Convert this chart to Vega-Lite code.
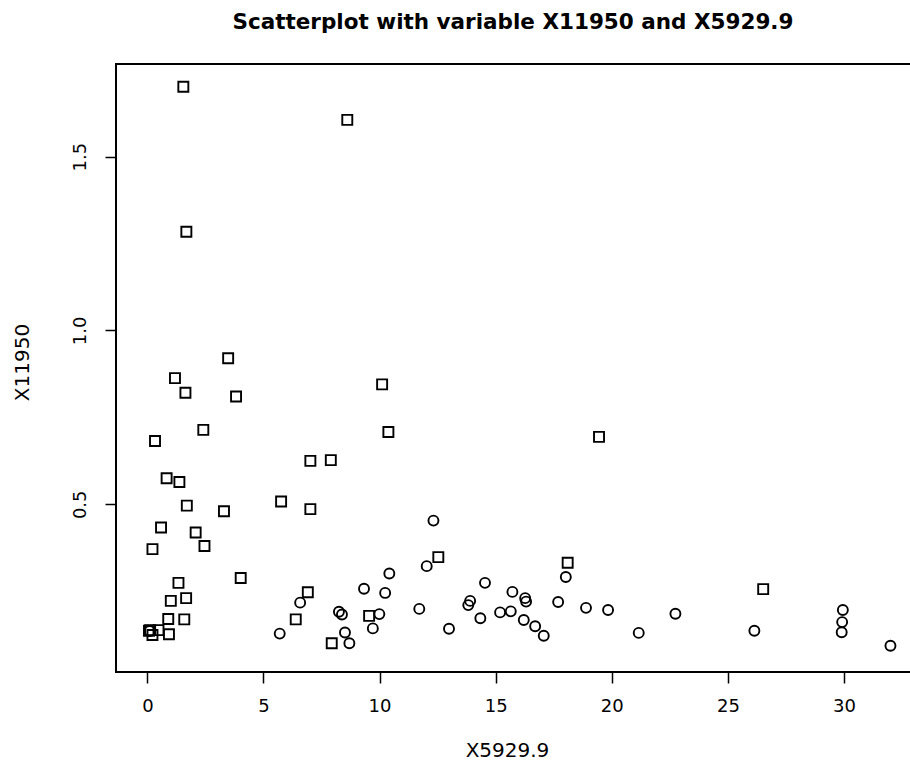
{
  "$schema": "https://vega.github.io/schema/vega-lite/v6.json",
  "autosize": "none",
  "padding": {"left": 116, "top": 64, "right": 0, "bottom": 93},
  "width": 800,
  "height": 608,
  "background": "white",
  "title": {
    "text": "Scatterplot with variable X11950 and X5929.9",
    "font": "DejaVu Sans",
    "fontSize": 21.5,
    "fontWeight": "bold",
    "color": "black",
    "anchor": "middle",
    "baseline": "alphabetic",
    "dx": -3,
    "dy": 16,
    "offset": 30
  },
  "config": {
    "view": {"stroke": "black", "strokeWidth": 2},
    "axis": {
      "domain": false,
      "grid": false,
      "ticks": true,
      "tickColor": "black",
      "tickSize": 11,
      "tickWidth": 1.5,
      "labelFont": "DejaVu Sans",
      "labelFontSize": 18,
      "labelColor": "black",
      "titleFont": "DejaVu Sans",
      "titleFontSize": 20,
      "titleFontWeight": "normal",
      "titleColor": "black"
    }
  },
  "data": {
    "values": [
      {"x": 1.55, "y": 1.701, "g": "sq"},
      {"x": 8.61, "y": 1.606, "g": "sq"},
      {"x": 1.68, "y": 1.284, "g": "sq"},
      {"x": 3.48, "y": 0.920, "g": "sq"},
      {"x": 1.19, "y": 0.863, "g": "sq"},
      {"x": 1.64, "y": 0.821, "g": "sq"},
      {"x": 3.82, "y": 0.810, "g": "sq"},
      {"x": 10.11, "y": 0.845, "g": "sq"},
      {"x": 10.38, "y": 0.708, "g": "sq"},
      {"x": 2.41, "y": 0.714, "g": "sq"},
      {"x": 0.33, "y": 0.682, "g": "sq"},
      {"x": 7.02, "y": 0.625, "g": "sq"},
      {"x": 7.90, "y": 0.627, "g": "sq"},
      {"x": 0.83, "y": 0.575, "g": "sq"},
      {"x": 1.38, "y": 0.564, "g": "sq"},
      {"x": 1.70, "y": 0.496, "g": "sq"},
      {"x": 3.30, "y": 0.480, "g": "sq"},
      {"x": 5.76, "y": 0.508, "g": "sq"},
      {"x": 7.02, "y": 0.486, "g": "sq"},
      {"x": 0.59, "y": 0.433, "g": "sq"},
      {"x": 2.08, "y": 0.419, "g": "sq"},
      {"x": 2.46, "y": 0.380, "g": "sq"},
      {"x": 0.22, "y": 0.371, "g": "sq"},
      {"x": 4.02, "y": 0.288, "g": "sq"},
      {"x": 1.34, "y": 0.274, "g": "sq"},
      {"x": 1.67, "y": 0.230, "g": "sq"},
      {"x": 1.01, "y": 0.222, "g": "sq"},
      {"x": 0.90, "y": 0.170, "g": "sq"},
      {"x": 1.59, "y": 0.169, "g": "sq"},
      {"x": 0.07, "y": 0.136, "g": "sq"},
      {"x": 0.12, "y": 0.138, "g": "sq"},
      {"x": 0.22, "y": 0.124, "g": "sq"},
      {"x": 0.93, "y": 0.126, "g": "sq"},
      {"x": 0.48, "y": 0.138, "g": "sq"},
      {"x": 6.91, "y": 0.247, "g": "sq"},
      {"x": 6.39, "y": 0.169, "g": "sq"},
      {"x": 9.55, "y": 0.179, "g": "sq"},
      {"x": 7.94, "y": 0.100, "g": "sq"},
      {"x": 19.45, "y": 0.694, "g": "sq"},
      {"x": 12.53, "y": 0.348, "g": "sq"},
      {"x": 18.10, "y": 0.332, "g": "sq"},
      {"x": 26.52, "y": 0.256, "g": "sq"},
      {"x": 0.10, "y": 0.135, "g": "ci"},
      {"x": 6.58, "y": 0.217, "g": "ci"},
      {"x": 5.70, "y": 0.128, "g": "ci"},
      {"x": 9.33, "y": 0.257, "g": "ci"},
      {"x": 10.42, "y": 0.301, "g": "ci"},
      {"x": 10.24, "y": 0.245, "g": "ci"},
      {"x": 8.25, "y": 0.191, "g": "ci"},
      {"x": 8.38, "y": 0.183, "g": "ci"},
      {"x": 9.99, "y": 0.184, "g": "ci"},
      {"x": 9.71, "y": 0.143, "g": "ci"},
      {"x": 8.51, "y": 0.131, "g": "ci"},
      {"x": 8.70, "y": 0.100, "g": "ci"},
      {"x": 12.32, "y": 0.453, "g": "ci"},
      {"x": 12.03, "y": 0.322, "g": "ci"},
      {"x": 18.02, "y": 0.291, "g": "ci"},
      {"x": 14.54, "y": 0.274, "g": "ci"},
      {"x": 15.72, "y": 0.248, "g": "ci"},
      {"x": 16.27, "y": 0.230, "g": "ci"},
      {"x": 16.31, "y": 0.220, "g": "ci"},
      {"x": 13.90, "y": 0.222, "g": "ci"},
      {"x": 13.82, "y": 0.210, "g": "ci"},
      {"x": 11.71, "y": 0.199, "g": "ci"},
      {"x": 17.69, "y": 0.219, "g": "ci"},
      {"x": 18.89, "y": 0.202, "g": "ci"},
      {"x": 19.84, "y": 0.196, "g": "ci"},
      {"x": 22.74, "y": 0.185, "g": "ci"},
      {"x": 15.19, "y": 0.189, "g": "ci"},
      {"x": 15.65, "y": 0.192, "g": "ci"},
      {"x": 14.34, "y": 0.172, "g": "ci"},
      {"x": 16.21, "y": 0.167, "g": "ci"},
      {"x": 16.70, "y": 0.149, "g": "ci"},
      {"x": 17.07, "y": 0.122, "g": "ci"},
      {"x": 12.99, "y": 0.142, "g": "ci"},
      {"x": 21.16, "y": 0.130, "g": "ci"},
      {"x": 26.14, "y": 0.136, "g": "ci"},
      {"x": 29.95, "y": 0.196, "g": "ci"},
      {"x": 29.92, "y": 0.161, "g": "ci"},
      {"x": 29.90, "y": 0.132, "g": "ci"},
      {"x": 32.0, "y": 0.093, "g": "ci"}
    ]
  },
  "mark": {"type": "point", "filled": false, "stroke": "black", "strokeWidth": 1.9, "size": 100, "opacity": 1},
  "encoding": {
    "x": {
      "field": "x",
      "type": "quantitative",
      "scale": {"domain": [-1.35, 33.1], "nice": false, "zero": false},
      "axis": {
        "values": [0, 5, 10, 15, 20, 25, 30],
        "title": "X5929.9",
        "labelPadding": 14,
        "titleX": 391,
        "titleY": 78,
        "titleBaseline": "middle",
        "titleAnchor": null
      }
    },
    "y": {
      "field": "y",
      "type": "quantitative",
      "scale": {"domain": [0.0175, 1.7666], "nice": false, "zero": false},
      "axis": {
        "values": [0.5, 1.0, 1.5],
        "format": ".1f",
        "title": "X11950",
        "labelAngle": -90,
        "labelAlign": "center",
        "labelBaseline": "bottom",
        "labelPadding": 16,
        "titleX": -94,
        "titleY": 298,
        "titleAngle": -90,
        "titleBaseline": "middle",
        "titleAlign": "center"
      }
    },
    "shape": {
      "field": "g",
      "type": "nominal",
      "scale": {"domain": ["sq", "ci"], "range": ["square", "circle"]},
      "legend": null
    }
  }
}
